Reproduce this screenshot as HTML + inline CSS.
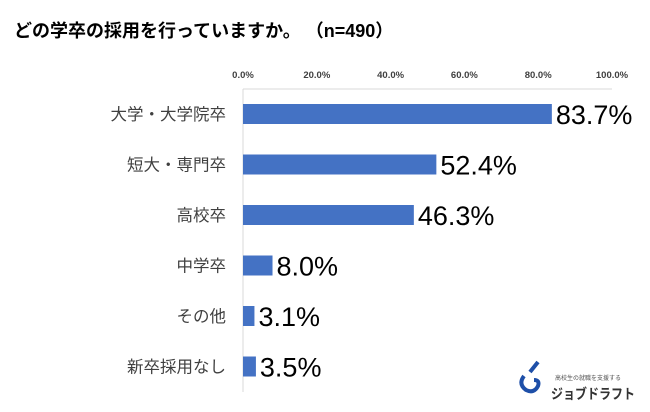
<!DOCTYPE html>
<html><head><meta charset="utf-8"><style>
body{margin:0;width:650px;height:407px;background:#fff;overflow:hidden;font-family:"Liberation Sans","Noto Sans CJK JP",sans-serif}
</style></head><body>
<svg id="c" width="650" height="407" xmlns="http://www.w3.org/2000/svg">
<text x="14" y="37" font-size="18" font-weight="bold" fill="#000" font-family="Liberation Sans,Noto Sans CJK JP,sans-serif">どの学卒の採用を行っていますか。 （n=490）</text>
<g id="g"></g>
<g>
<path d="M524 376 q-6 8 2 14 q8 4 12 -4 q2 -6 -4 -6 M530 372 l8 -10" stroke="#1e4fa8" stroke-width="4" fill="none"/>
<text x="555" y="380" font-size="6" fill="#555">高校生の就職を支援する</text>
<text x="551" y="399" font-size="14" font-weight="bold" fill="#333" textLength="84" lengthAdjust="spacingAndGlyphs" font-family="Noto Sans CJK JP,sans-serif">ジョブドラフト</text>
</g>
</svg>
<script>
const categories=["大学・大学院卒","短大・専門卒","高校卒","中学卒","その他","新卒採用なし"];
const values=[83.7,52.4,46.3,8.0,3.1,3.5];
const ticks=[0,20,40,60,80,100];
const NS="http://www.w3.org/2000/svg";
const g=document.getElementById('g');
const x0=243,x1=612,top0=89,rowH=50.5;
const xs=v=>x0+(x1-x0)*v/100;
function mk(t,a,txt){const e=document.createElementNS(NS,t);for(const k in a)e.setAttribute(k,a[k]);if(txt!=null)e.textContent=txt;g.appendChild(e);return e;}
const gl=mk('line',{x1:x0,x2:x1,y1:top0,y2:top0,stroke:'#d9d9d9','stroke-width':1});


ticks.forEach(t=>{const e=mk('text',{x:xs(t),y:78,'font-size':9.5,'font-weight':'bold','text-anchor':'middle',fill:'#404040'},t.toFixed(1)+'%');

});
const ax=mk('line',{x1:x0,x2:x0,y1:top0,y2:top0+rowH*categories.length,stroke:'#d9d9d9','stroke-width':1});


categories.forEach((c,i)=>{const cy=top0+rowH*i+25;
const l=mk('text',{x:226,y:cy+6,'font-size':16.5,'text-anchor':'end',fill:'#404040'},c);


const b=mk('rect',{x:x0,y:cy-10,width:xs(values[i])-x0,height:20,fill:'#4472c4'});


const v=mk('text',{x:xs(values[i])+4,y:cy+10,'font-size':27,fill:'#000'},values[i].toFixed(1)+'%');

});
</script>
</body></html>
